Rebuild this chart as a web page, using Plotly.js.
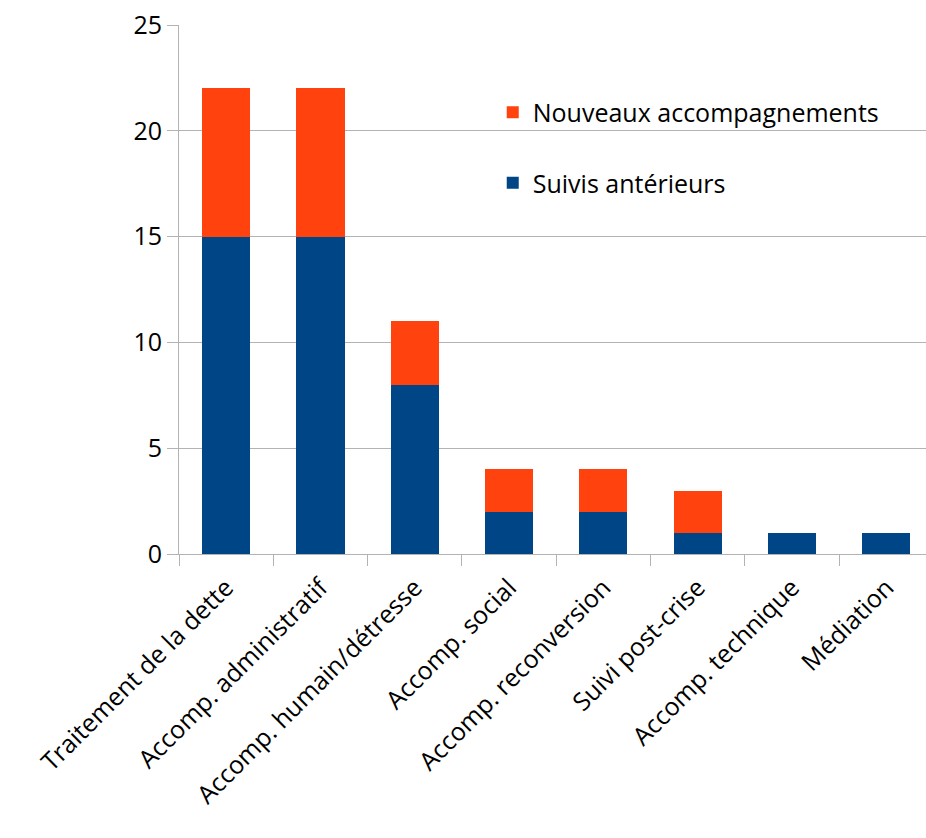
<!DOCTYPE html>
<html><head><meta charset="utf-8">
<script src="https://cdn.plot.ly/plotly-3.0.1.min.js"></script>
<style>html,body{margin:0;padding:0;background:#fff;}#chart{width:926px;height:838px;}</style>
</head><body><div id="chart"></div>
<script>
const categories = ["Traitement de la dette","Accomp. administratif","Accomp. humain/détresse","Accomp. social","Accomp. reconversion","Suivi post-crise","Accomp. technique","Médiation"];
const suivisAnterieurs = [15,15,8,2,2,1,1,1];
const nouveauxAccompagnements = [7,7,3,2,2,2,0,0];
const yTicks = [0,5,10,15,20,25];

const grid = "#b3b3b3";
const data = [
  {type:"bar", name:"Suivis antérieurs", x:categories, y:suivisAnterieurs, marker:{color:"#004586"}, legendgroup:"b", legendrank:2},
  {type:"bar", name:"Nouveaux accompagnements", x:categories, y:nouveauxAccompagnements, marker:{color:"#ff420e"}, legendgroup:"a", legendrank:1}
];
const layout = {
  width:926, height:838,
  margin:{l:179, r:0, t:25, b:284},
  barmode:"stack", bargap:0.49,
  paper_bgcolor:"#fff", plot_bgcolor:"#fff",
  font:{family:"Open Sans, DejaVu Sans, sans-serif", size:25, color:"#000"},
  showlegend:true,
  legend:{x:0.42, xanchor:"left", y:0.878, yanchor:"top", traceorder:"grouped", tracegroupgap:35, font:{size:25}, bgcolor:"rgba(0,0,0,0)"},
  xaxis:{type:"category", range:[-0.5,7.42], tickangle:-45, tickson:"boundaries", ticks:"outside", ticklen:11, tickcolor:grid, ticklabelstandoff:8, showline:true, linecolor:grid, linewidth:1, showgrid:false, fixedrange:true},
  yaxis:{range:[0,25], tickvals:yTicks, ticks:"outside", ticklen:11, tickcolor:grid, showline:true, linecolor:grid, linewidth:1, showgrid:true, gridcolor:grid, zeroline:false, fixedrange:true}
};
Plotly.newPlot("chart", data, layout, {displayModeBar:false, staticPlot:true});
</script></body></html>
